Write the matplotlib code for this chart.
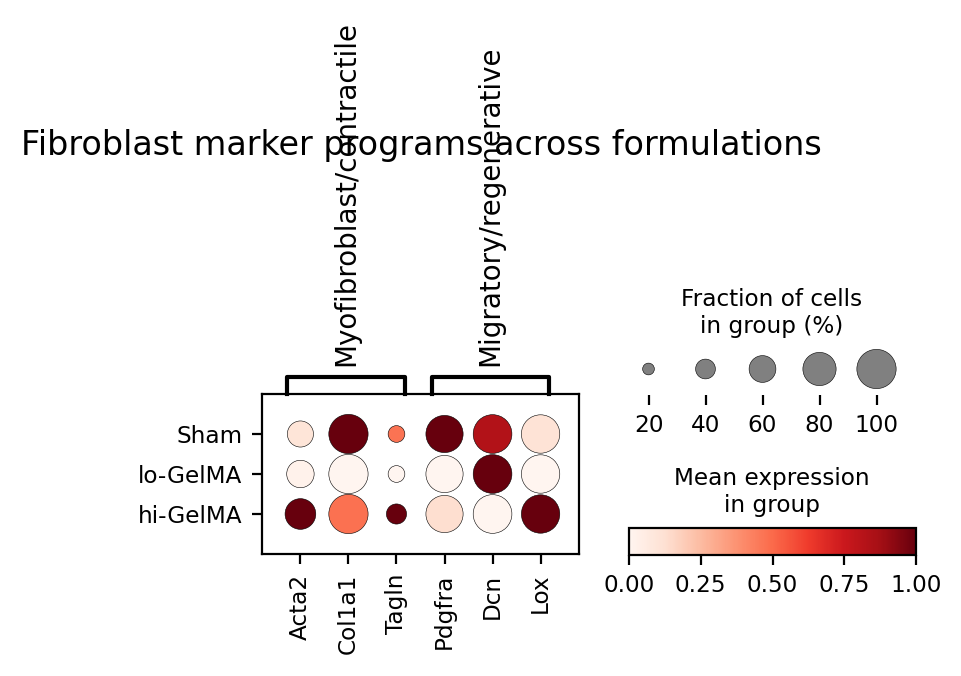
import numpy as np
import matplotlib
matplotlib.use("Agg")
import matplotlib.pyplot as plt

groups = ["Sham", "lo-GelMA", "hi-GelMA"]
genes = ["Acta2", "Col1a1", "Tagln", "Pdgfra", "Dcn", "Lox"]
programs = ["Myofibroblast/contractile", "Migratory/regenerative"]
program_spans = [(0, 2), (3, 5)]

# mean expression, scaled per gene (0..1)
mean_expr = np.array([
    [0.10, 1.00, 0.47, 1.00, 0.83, 0.11],
    [0.02, 0.00, 0.00, 0.00, 1.00, 0.00],
    [1.00, 0.48, 1.00, 0.13, 0.00, 1.00],
])
# fraction of cells expressing
frac = np.array([
    [0.58, 1.00, 0.32, 0.93, 0.98, 0.97],
    [0.62, 1.00, 0.32, 0.93, 0.98, 0.97],
    [0.72, 1.00, 0.41, 0.93, 0.98, 0.97],
])
legend_fracs = [20, 40, 60, 80, 100]
cbar_ticks = [0.0, 0.25, 0.5, 0.75, 1.0]

W, H = 961, 676
DPI = 200
largest_dot = 200
size_exp = 1.5


def px_box(x0, y0, x1, y1):
    # pixel box (top-left origin) -> figure fraction rect
    return [x0 / W, 1 - y1 / H, (x1 - x0) / W, (y1 - y0) / H]


def dot_size(f):
    return (np.asarray(f) ** size_exp) * largest_dot


fig = plt.figure(figsize=(W / DPI, H / DPI), dpi=DPI)

# main dot plot
ax = fig.add_axes(px_box(262, 394, 579, 554))
xx, yy = np.meshgrid(np.arange(len(genes)), np.arange(len(groups)))
ax.scatter(xx.ravel(), yy.ravel(), s=dot_size(frac.ravel()),
           c=mean_expr.ravel(), cmap="Reds", vmin=0, vmax=1,
           edgecolors="black", linewidths=0.2, zorder=3)
ax.set_xlim(-0.8, len(genes) - 1 + 0.8)
ax.set_ylim(len(groups) - 1 + 1.0, -1.0)
ax.set_xticks(range(len(genes)))
ax.set_xticklabels(genes, rotation=90, fontsize="small")
ax.set_yticks(range(len(groups)))
ax.set_yticklabels(groups, fontsize="small")

# gene group brackets
bax = fig.add_axes(px_box(262, 377, 579, 394), sharex=ax)
bax.set_ylim(0, 1)
bax.axis("off")
for label, (start, end) in zip(programs, program_spans):
    left, right = start - 0.27, end + 0.18
    bax.plot([left, left, right, right], [0, 1, 1, 0], color="black",
             lw=1.5, clip_on=False)
    bax.annotate(label, xy=((left + right) / 2, 1), xytext=(0, 4),
                 textcoords="offset points", rotation=90,
                 ha="center", va="bottom", fontsize=10)

# size legend
sax = fig.add_axes(px_box(620, 343, 905, 395))
sax.scatter(np.arange(len(legend_fracs)), np.zeros(len(legend_fracs)),
            s=dot_size(np.array(legend_fracs) / 100), color="gray",
            edgecolors="black", linewidths=0.2, zorder=3)
sax.set_xlim(-0.5, len(legend_fracs) - 0.5)
sax.set_ylim(-1, 1)
sax.set_xticks(range(len(legend_fracs)))
sax.set_xticklabels([str(v) for v in legend_fracs], fontsize="small")
sax.set_yticks([])
for sp in sax.spines.values():
    sp.set_visible(False)
fig.text(772 / W, 1 - 313 / H, "Fraction of cells\nin group (%)",
         ha="center", va="center", fontsize="small")

# colour bar
cax = fig.add_axes(px_box(629, 528, 916, 555))
sm = plt.cm.ScalarMappable(cmap="Reds", norm=plt.Normalize(0, 1))
cb = fig.colorbar(sm, cax=cax, orientation="horizontal")
cb.set_ticks(cbar_ticks)
cb.set_ticklabels(["%.2f" % t for t in cbar_ticks])
cax.tick_params(labelsize="small")
fig.text(772 / W, 1 - 492 / H, "Mean expression\nin group",
         ha="center", va="center", fontsize="small")

fig.text(421 / W, 1 - 145 / H, "Fibroblast marker programs across formulations",
         ha="center", va="center", fontsize=12)

fig.savefig("out.png", dpi=DPI)
